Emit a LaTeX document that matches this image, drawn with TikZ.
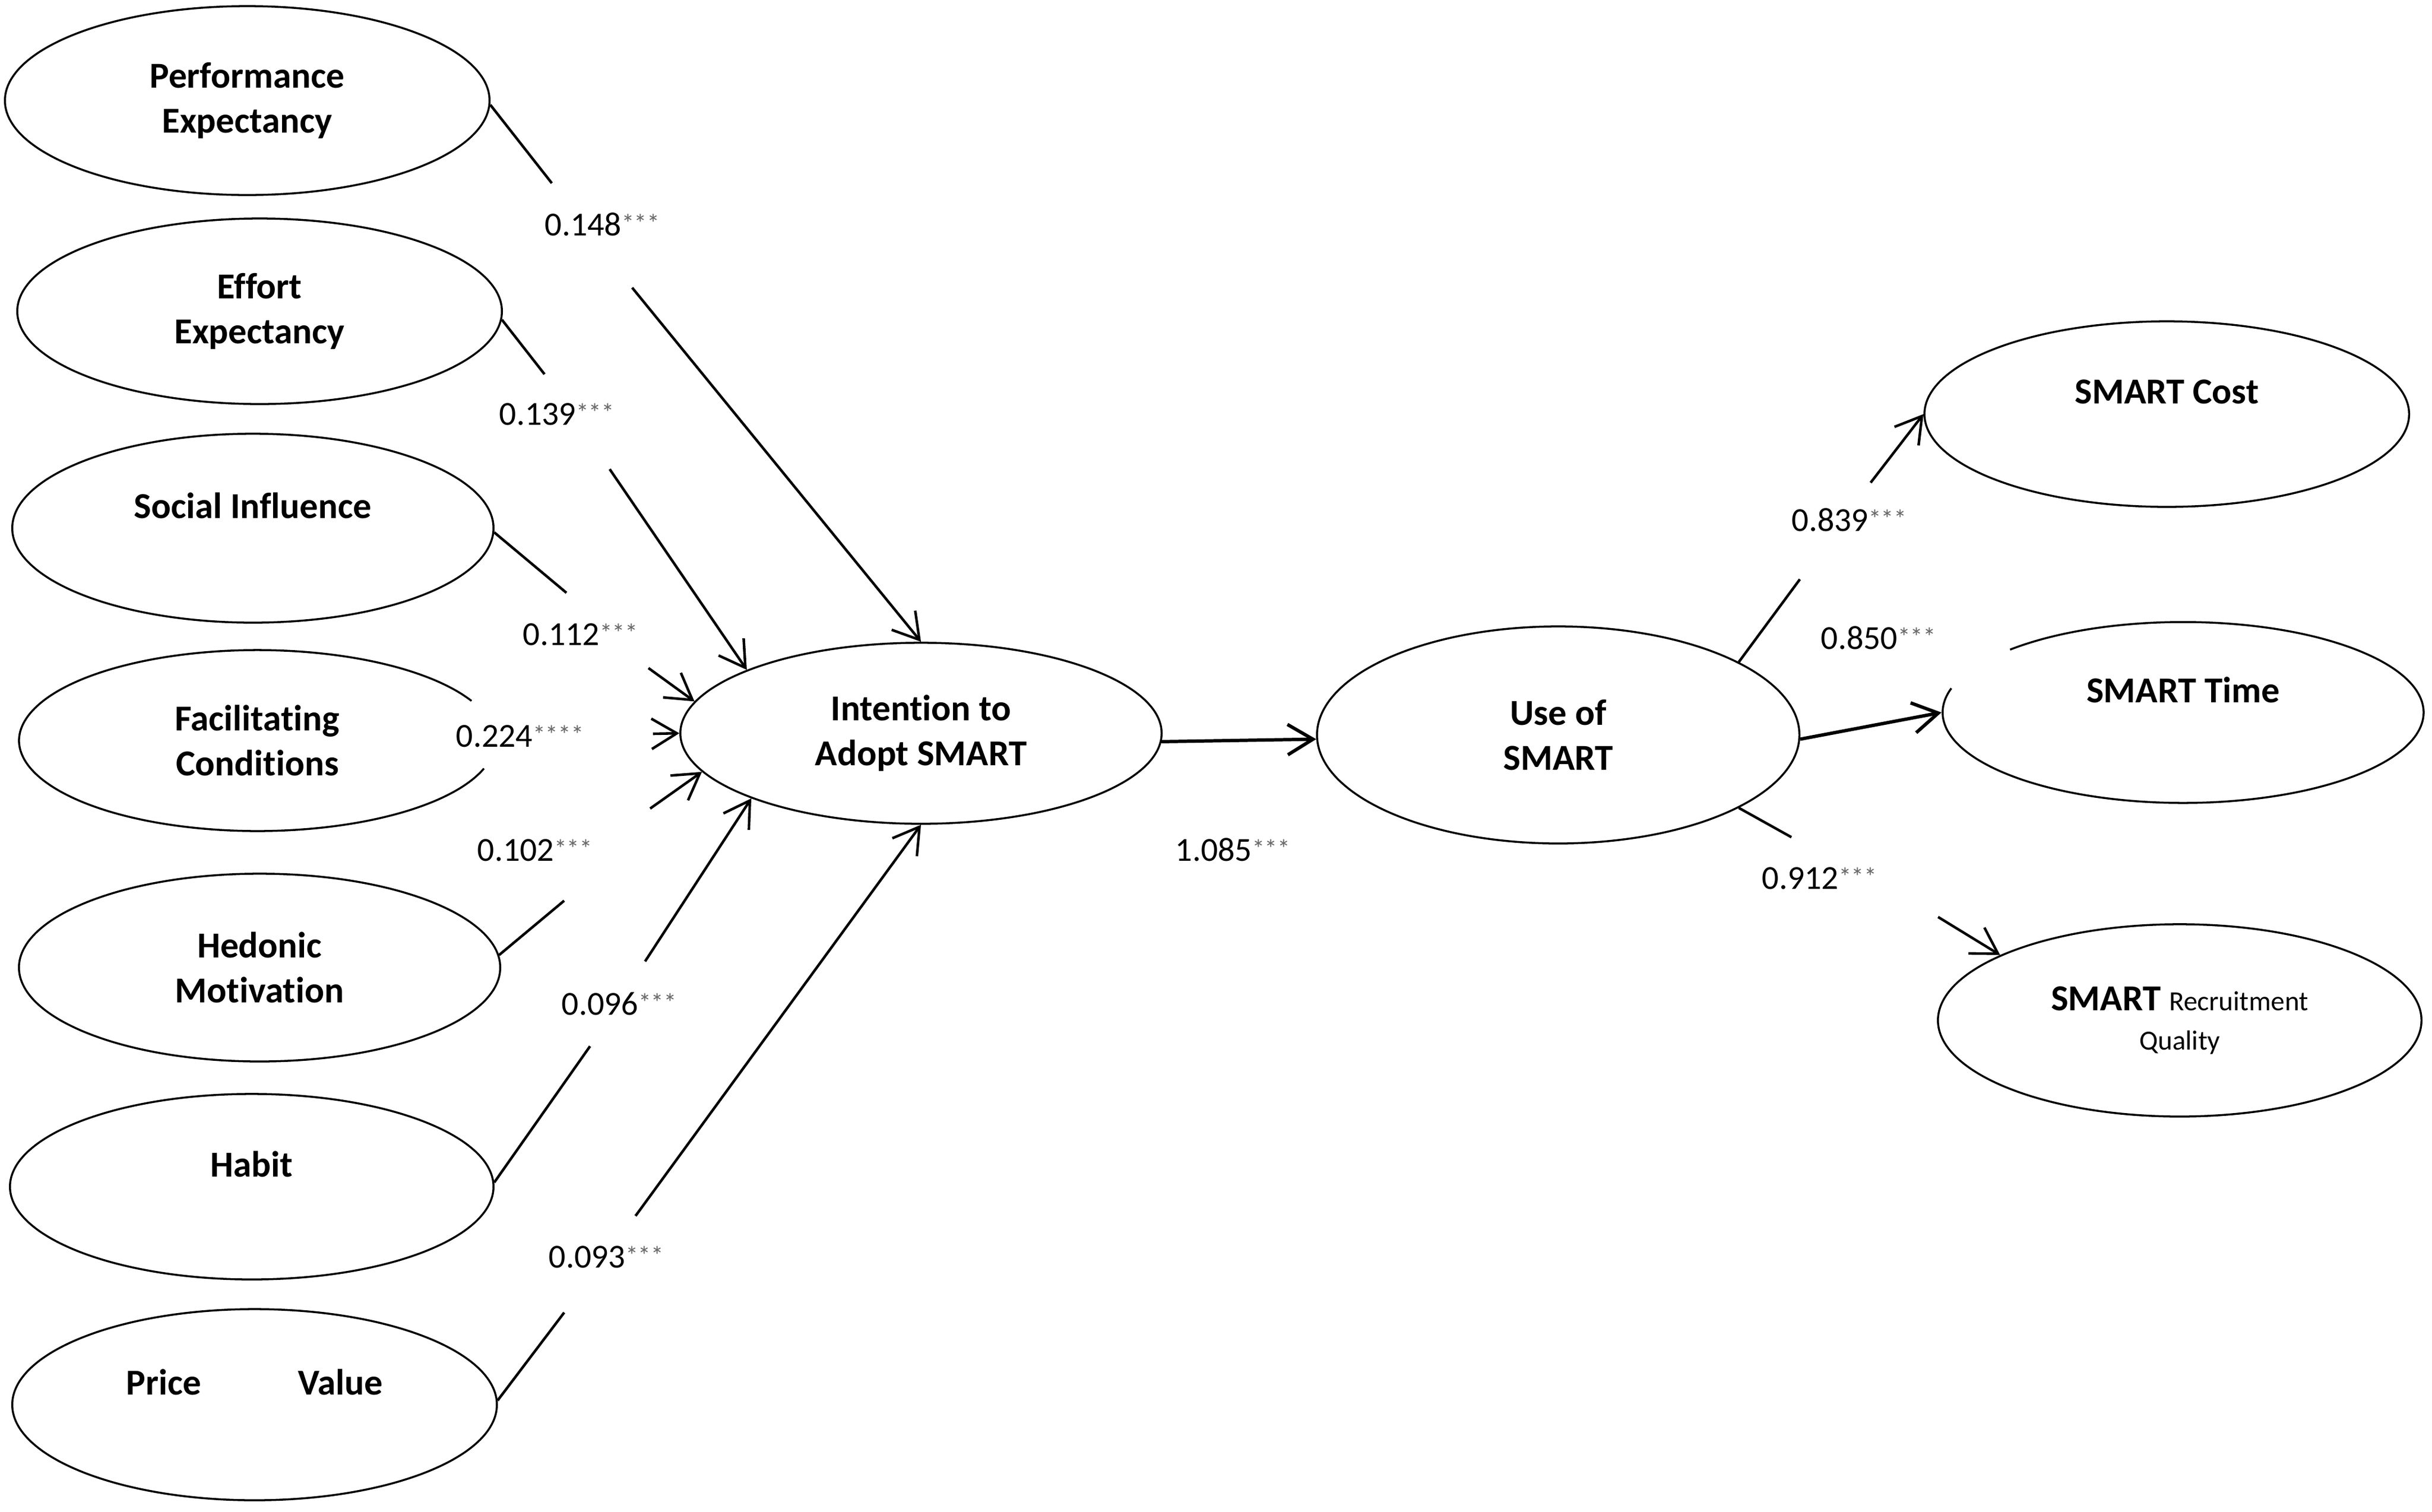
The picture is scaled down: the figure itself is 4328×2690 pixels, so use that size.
\documentclass[tikz,border=0pt]{standalone}
\usepackage{fontspec}
\setmainfont{Carlito}[Ligatures=NoCommon]
\usetikzlibrary{shapes.geometric,arrows.meta,calc}
\newcommand\latsize{\fontsize{18.5}{22.8}\selectfont\bfseries}
\newcommand\smallsize{\fontsize{14}{14}\selectfont\mdseries}
\newcommand\coefsize{\fontsize{17}{20}\selectfont}
\newcommand\sigstars[1]{{\color{black!60}\raisebox{1.5pt}{\fontsize{13}{13}\selectfont #1}}}
\begin{document}
\begin{tikzpicture}[x=0.01cm,y=-0.01cm,
  lat/.style={ellipse,draw,line width=1pt,inner sep=0pt,align=center,font=\latsize},
  coef/.style={inner sep=0pt,anchor=base west,font=\coefsize},
  seg/.style={line width=1.3pt},
  arr/.style={line width=1.3pt,-{Straight Barb[length=0.45cm,width=0.54cm]}},
  thickarr/.style={arr,line width=1.7pt}]
\useasboundingbox (0,0) rectangle (4328,2690);
\fill[white] (0,0) rectangle (4328,2690);

% exogenous constructs
\node[lat,minimum width=8.62cm,minimum height=3.36cm] (PE) at (440,179) {Performance\\Expectancy};
\node[lat,minimum width=8.62cm,minimum height=3.30cm] (EE) at (462,554) {Effort\\Expectancy};
\node[lat,minimum width=8.56cm,minimum height=3.36cm] (SI) at (450,940) {Social Influence\\\mbox{}};
\node[lat,draw=none,minimum width=8.48cm,minimum height=3.22cm] (FC) at (458,1318) {Facilitating\\Conditions};
\draw[line width=1pt] ($(FC.center)+(18:424 and 161)$) arc[start angle=18,end angle=334,x radius=424,y radius=161];
\node[lat,minimum width=8.56cm,minimum height=3.34cm] (HM) at (462,1722) {Hedonic\\Motivation};
\node[lat,minimum width=8.60cm,minimum height=3.30cm] (HB) at (448,2112) {Habit\\\mbox{}};
\node[lat,minimum width=8.62cm,minimum height=3.40cm] (PV) at (453,2500) {Price\hspace{1.72cm}Value\\\mbox{}};

% central constructs
\node[lat,minimum width=8.56cm,minimum height=3.22cm] (INT) at (1639,1305) {Intention to\\Adopt SMART};
\node[lat,minimum width=8.58cm,minimum height=3.86cm] (USE) at (2773,1308) {Use of\\SMART};

% outcomes
\node[lat,minimum width=8.62cm,minimum height=3.30cm] (COST) at (3856,737) {SMART Cost\\\mbox{}};
\node[lat,draw=none,minimum width=8.56cm,minimum height=3.22cm] (TIME) at (3885,1268) {SMART Time\\\mbox{}};
\draw[line width=1pt] ($(TIME.center)+(224:428 and 161)$) arc[start angle=224,end angle=555.5,x radius=428,y radius=161];
\node[lat,minimum width=8.60cm,minimum height=3.42cm] (QUAL) at (3879,1816) {SMART {\smallsize Recruitment}\\[-3pt]{\smallsize Quality}};

% break points of the interrupted connectors
\coordinate (pe1) at (982,326);   \coordinate (pe2) at (1125,512);
\coordinate (ee1) at (969,666);   \coordinate (ee2) at (1085,835);
\coordinate (si1) at (1008,1055); \coordinate (si2) at (1154,1189);
\coordinate (fc2) at (1162,1306);
\coordinate (hm1) at (1004,1603); \coordinate (hm2) at (1157,1439);
\coordinate (hb1) at (1050,1862); \coordinate (hb2) at (1148,1711);
\coordinate (pv1) at (1004,2336); \coordinate (pv2) at (1131,2164);
\coordinate (co1) at (3203,1031); \coordinate (co2) at (3329,859);
\coordinate (qu1) at (3188,1490); \coordinate (qu2) at (3449,1632);

% connectors
\draw[seg] (PE.-1) -- (pe1);  \draw[arr] (pe2) -- (INT.north);
\draw[seg] (EE.-2) -- (ee1);  \draw[arr] (ee2) -- (INT.160);
\draw[seg] (SI.-1) -- (si1);  \draw[arr] (si2) -- (INT.172);
\draw[arr] (fc2) -- (INT.180);
\draw[seg] (HM.3) -- (hm1);   \draw[arr] (hm2) -- (INT.190);
\draw[seg] (HB.1) -- (hb1);   \draw[arr] (hb2) -- (INT.201);
\draw[seg] (PV.1) -- (pv1);   \draw[arr] (pv2) -- (INT.south);
\draw[thickarr] (INT.-2) -- (USE.181);
\draw[seg] (USE.22) -- (co1); \draw[arr] (co2) -- (COST.180);
\draw[thickarr] (USE.-1) -- (TIME.180);
\draw[seg] (USE.-22) -- (qu1); \draw[arr] (qu2) -- (QUAL.160);

% path coefficients
\node[coef] (c1) at (969,419)   {0.148\sigstars{***}};
\node[coef] (c2) at (888,756)   {0.139\sigstars{***}};
\node[coef] (c3) at (930,1148)  {0.112\sigstars{***}};
\node[coef] (c4) at (811,1329)  {0.224\sigstars{****}};
\node[coef] (c5) at (849,1532)  {0.102\sigstars{***}};
\node[coef] (c6) at (999,1806)  {0.096\sigstars{***}};
\node[coef] (c7) at (976,2256)  {0.093\sigstars{***}};
\node[coef] (c8) at (2091,1532) {1.085\sigstars{***}};
\node[coef] (c9) at (3188,945)  {0.839\sigstars{***}};
\node[coef] (c10) at (3240,1155) {0.850\sigstars{***}};
\node[coef] (c11) at (3135,1582) {0.912\sigstars{***}};
\end{tikzpicture}
\end{document}
